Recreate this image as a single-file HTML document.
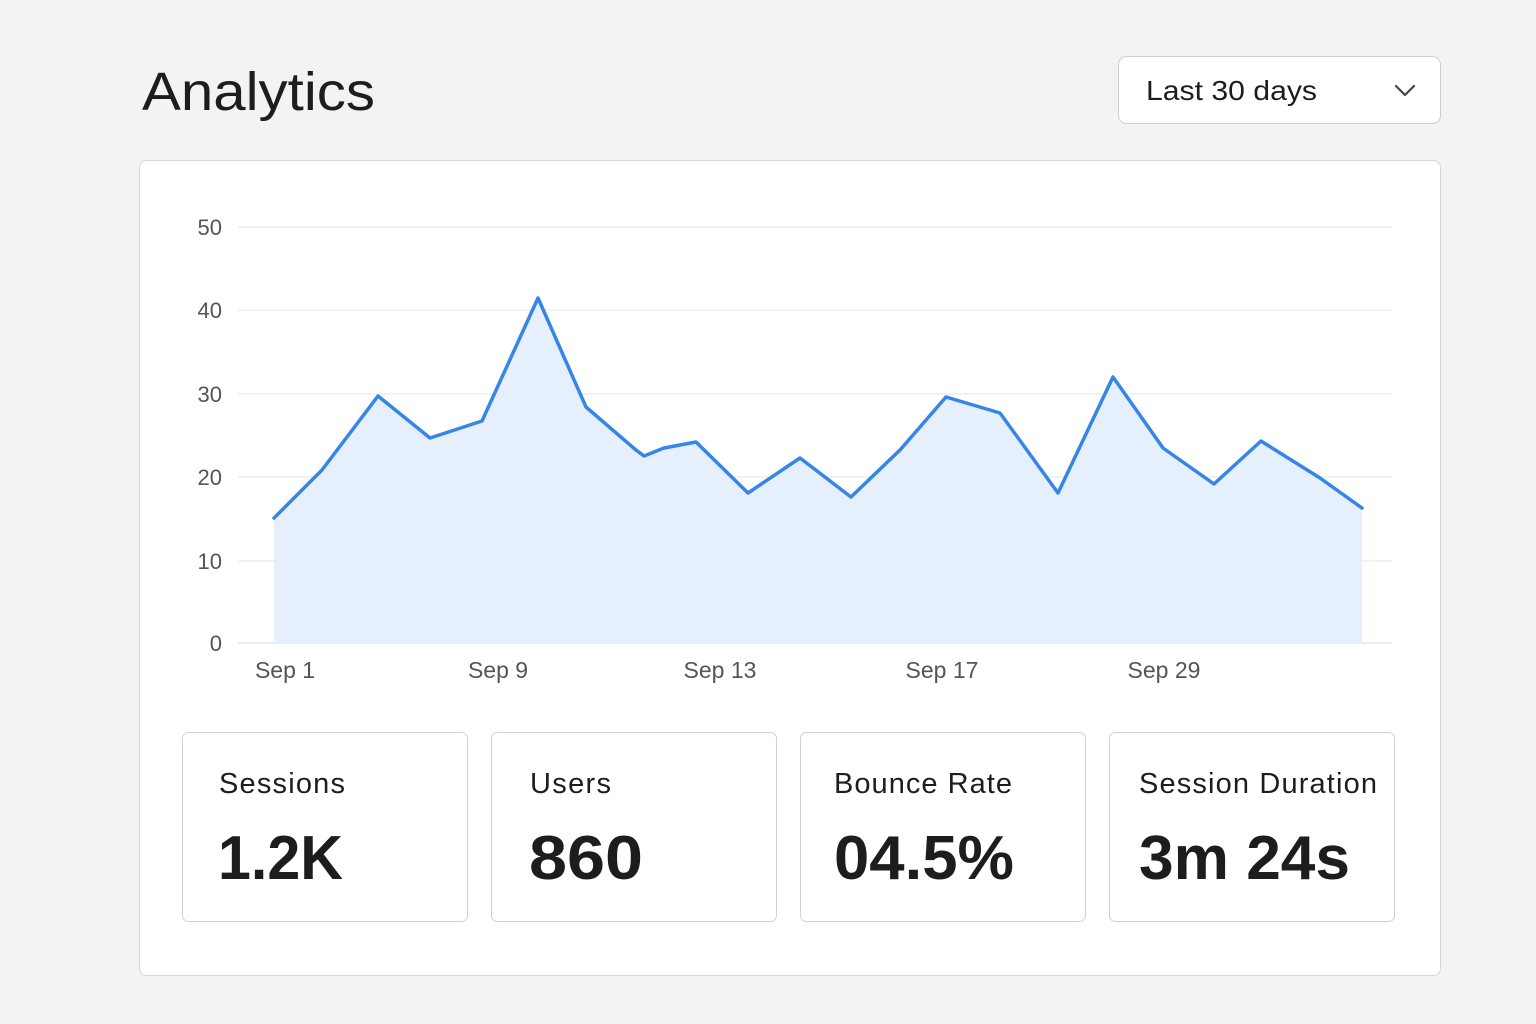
<!DOCTYPE html>
<html><head><meta charset="utf-8"><style>
html,body{margin:0;padding:0;background:#f3f3f3;}
svg{display:block}
text{font-family:"Liberation Sans",sans-serif}
</style></head><body>
<svg width="1536" height="1024" viewBox="0 0 1536 1024" xmlns="http://www.w3.org/2000/svg">
<rect width="1536" height="1024" fill="#f3f3f3"/>
<text x="142" y="110" font-size="54" fill="#1d1d1f" textLength="233" lengthAdjust="spacingAndGlyphs">Analytics</text>
<rect x="1118.5" y="56.5" width="322" height="67" rx="8" fill="#fff" stroke="#cfcfcf"/>
<text x="1146" y="100" font-size="28" fill="#1d1d1f" textLength="171" lengthAdjust="spacingAndGlyphs">Last 30 days</text>
<path d="M1396 86 L1405 95 L1414 86" fill="none" stroke="#444" stroke-width="2.2" stroke-linecap="round" stroke-linejoin="round"/>
<rect x="139.5" y="160.5" width="1301" height="815" rx="7" fill="#fff" stroke="#d6d6d6"/>
<g stroke="#e4e4e4" stroke-width="1">
<line x1="238" y1="227" x2="1392" y2="227"/><line x1="238" y1="310" x2="1392" y2="310"/>
<line x1="238" y1="394" x2="1392" y2="394"/><line x1="238" y1="477" x2="1392" y2="477"/>
<line x1="238" y1="561" x2="1392" y2="561"/><line x1="238" y1="643" x2="1392" y2="643" stroke="#d8d8d8"/>
</g>
<g font-size="22" fill="#555" text-anchor="end">
<text x="222" y="235">50</text><text x="222" y="318">40</text><text x="222" y="402">30</text>
<text x="222" y="485">20</text><text x="222" y="569">10</text><text x="222" y="651">0</text>
</g>
<g font-size="23" fill="#555" text-anchor="middle">
<text x="285" y="678">Sep 1</text><text x="498" y="678">Sep 9</text><text x="720" y="678">Sep 13</text>
<text x="942" y="678">Sep 17</text><text x="1164" y="678">Sep 29</text>
</g>
<path d="M274 518 L322 470 L378 396 L430 438 L482 421 L538 298 L586 407 L636 450 L644 456 L664 448 L696 442 L748 493 L800 458 L851 497 L900 450 L946 397 L1000 413 L1058 493 L1113 377 L1163 448 L1214 484 L1261 441 L1320 478 L1362 508 L1362 643 L274 643 Z" fill="#e6f0fd"/>
<path d="M274 518 L322 470 L378 396 L430 438 L482 421 L538 298 L586 407 L636 450 L644 456 L664 448 L696 442 L748 493 L800 458 L851 497 L900 450 L946 397 L1000 413 L1058 493 L1113 377 L1163 448 L1214 484 L1261 441 L1320 478 L1362 508" fill="none" stroke="#3586e6" stroke-width="3.5" stroke-linejoin="round" stroke-linecap="round"/>
<g fill="#fff" stroke="#d2d2d2">
<rect x="182.5" y="732.5" width="285" height="189" rx="6"/>
<rect x="491.5" y="732.5" width="285" height="189" rx="6"/>
<rect x="800.5" y="732.5" width="285" height="189" rx="6"/>
<rect x="1109.5" y="732.5" width="285" height="189" rx="6"/>
</g>
<g font-size="29" fill="#1d1d1f" lengthAdjust="spacingAndGlyphs">
<text x="219" y="793" textLength="126">Sessions</text><text x="530" y="793" textLength="81">Users</text>
<text x="834" y="793" textLength="178">Bounce Rate</text><text x="1139" y="793" textLength="238">Session Duration</text>
</g>
<g font-size="62" fill="#1d1d1f" font-weight="bold">
<text x="218" y="879" textLength="125" lengthAdjust="spacingAndGlyphs">1.2K</text><text x="529" y="879" textLength="114" lengthAdjust="spacingAndGlyphs">860</text>
<text x="834" y="879" textLength="180" lengthAdjust="spacingAndGlyphs">04.5%</text><text x="1139" y="879" textLength="211" lengthAdjust="spacingAndGlyphs">3m 24s</text>
</g>
</svg>
</body></html>
